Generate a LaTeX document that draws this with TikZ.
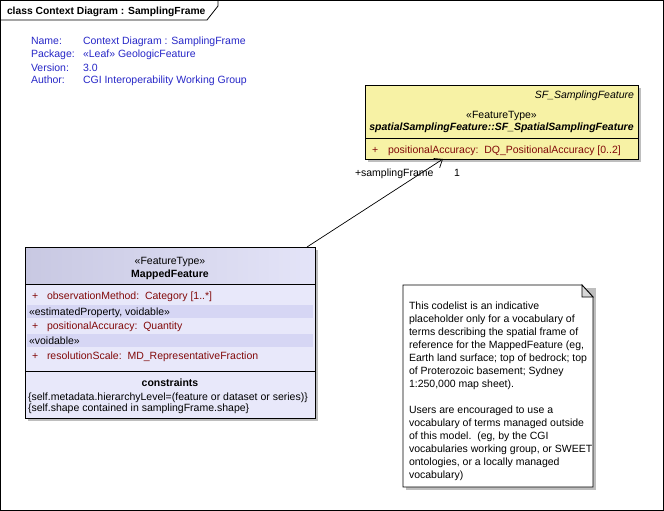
\documentclass[tikz,border=0pt]{standalone}
\usepackage{fontspec}
\setmainfont{Liberation Sans}
\usetikzlibrary{arrows.meta}
\definecolor{metablue}{RGB}{40,40,200}
\definecolor{attrred}{RGB}{130,10,10}
\definecolor{yel}{RGB}{247,242,165}
\definecolor{lavbody}{RGB}{232,232,250}
\definecolor{lavhdl}{RGB}{200,200,226}
\definecolor{lavhdr}{RGB}{228,228,248}
\definecolor{lavband}{RGB}{214,214,244}
\definecolor{shadowc}{RGB}{190,190,190}
\definecolor{foldc}{RGB}{215,215,215}
\begin{document}
\begin{tikzpicture}[x=1pt,y=-1pt,
  tt/.style={font=\fontsize{10.5}{12}\selectfont, inner sep=0pt, outer sep=0pt, anchor=base west},
  ttc/.style={tt, anchor=base},
  meta/.style={tt, text=metablue},
  attr/.style={tt, text=attrred},
  boxstyle/.style={draw=black, line width=0.8pt, inner sep=0pt, outer sep=0pt, anchor=north west},
  shadowbox/.style={fill=shadowc}]
\useasboundingbox (0,0) rectangle (664,511);
\fill[white] (0,0) rectangle (664,511);
% frame
\draw[line width=1pt] (0.5,0.5) rectangle (663,510);
\draw[line width=0.8pt] (0.5,20) -- (207,20) -- (218,6) -- (218,0.5);
\node[tt, font=\fontsize{10.3}{12}\selectfont\bfseries] (title) at (7,15) {class Context Diagram : SamplingFrame};
% metadata
\node[meta] (l1) at (31,45) {Name:};
\node[meta] (l2) at (31,58) {Package:};
\node[meta] (l3) at (31,71) {Version:};
\node[meta] (l4) at (31,84) {Author:};
\node[meta] (v1) at (83,45) {Context Diagram : SamplingFrame};
\node[meta] (v2) at (83,58) {«Leaf» GeologicFeature};
\node[meta] (v3) at (83,71) {3.0};
\node[meta] (v4) at (83,84) {CGI Interoperability Working Group};
% SF_SamplingFeature
\fill[shadowbox] (368,88) rectangle (641,162);
\node[boxstyle, fill=yel, minimum width=273pt, minimum height=74pt] (sf) at (365,85) {};
\draw[line width=0.8pt] (365,138) -- (638,138);
\node[tt, anchor=base east, font=\fontsize{10.5}{12}\selectfont\itshape] (sfname) at (634,99) {SF\_SamplingFeature};
\node[ttc] (sfst) at (501.5,118) {«FeatureType»};
\node[ttc, font=\fontsize{10.5}{12}\selectfont\bfseries\itshape] (sfcls) at (501.5,130) {spatialSamplingFeature::SF\_SpatialSamplingFeature};
\node[attr] (sfp) at (372,153) {+};
\node[attr] (sfa) at (388,153) {positionalAccuracy:\ \ DQ\_PositionalAccuracy [0..2]};
% MappedFeature
\fill[shadowbox] (28,250) rectangle (318,421);
\fill[lavbody] (25,247) rectangle (315,418);
\shade[left color=lavhdl, right color=lavhdr] (25,247) rectangle (315,284);
\fill[lavband] (27,305) rectangle (313,318);
\fill[lavband] (27,334) rectangle (313,347);
\node[boxstyle, minimum width=290pt, minimum height=171pt] (mf) at (25,247) {};
\draw[line width=0.8pt] (25,284) -- (315,284);
\draw[line width=0.8pt] (25,371) -- (315,371);
\node[ttc] (mfst) at (170,264) {«FeatureType»};
\node[ttc, font=\fontsize{10.5}{12}\selectfont\bfseries] (mfname) at (170,277) {MappedFeature};
\node[attr] (p1) at (32,299) {+};
\node[attr] (a1) at (47,299) {observationMethod:\ \ Category [1..*]};
\node[tt] (s1) at (29,315) {«estimatedProperty, voidable»};
\node[attr] (p2) at (32,329) {+};
\node[attr] (a2) at (47,329) {positionalAccuracy:\ \ Quantity};
\node[tt] (s2) at (29,344) {«voidable»};
\node[attr] (p3) at (32,359) {+};
\node[attr] (a3) at (47,359) {resolutionScale:\ \ MD\_RepresentativeFraction};
\node[ttc, font=\fontsize{10.5}{12}\selectfont\bfseries] (cons) at (170,386) {constraints};
\node[tt] (c1) at (28,400) {\{self.metadata.hierarchyLevel=(feature or dataset or series)\}};
\node[tt] (c2) at (28,411) {\{self.shape contained in samplingFrame.shape\}};
% association
\draw[line width=0.7pt, -{Straight Barb[length=7pt,width=11pt]}] ([xshift=-8pt]mf.north east) -- ([xshift=-58.5pt]sf.south);
\node[tt] (role) at (355,176) {+samplingFrame};
\node[tt] (mult) at (454,176) {1};
% note
\fill[shadowc] (406,288) -- (596,288) -- (596,490) -- (406,490) -- cycle;
\filldraw[fill=white, draw=black, line width=0.8pt] (403,285) -- (582,285) -- (593,297) -- (593,487) -- (403,487) -- cycle;
\filldraw[fill=foldc, draw=black, line width=0.8pt] (582,285) -- (582,297) -- (593,297) -- cycle;
\node[tt] (n1) at (409,309) {This codelist is an indicative};
\node[tt] (n2) at (409,322) {placeholder only for a vocabulary of};
\node[tt] (n3) at (409,335) {terms describing the spatial frame of};
\node[tt] (n4) at (409,348) {reference for the MappedFeature (eg,};
\node[tt] (n5) at (409,361) {Earth land surface; top of bedrock; top};
\node[tt] (n6) at (409,374) {of Proterozoic basement; Sydney};
\node[tt] (n7) at (409,387) {1:250,000 map sheet).};
\node[tt] (n8) at (409,413) {Users are encouraged to use a};
\node[tt] (n9) at (409,426) {vocabulary of terms managed outside};
\node[tt] (n10) at (409,439) {of this model.\ \ (eg, by the CGI};
\node[tt] (n11) at (409,452) {vocabularies working group, or SWEET};
\node[tt] (n12) at (409,465) {ontologies, or a locally managed};
\node[tt] (n13) at (409,478) {vocabulary)};
\end{tikzpicture}
\end{document}
